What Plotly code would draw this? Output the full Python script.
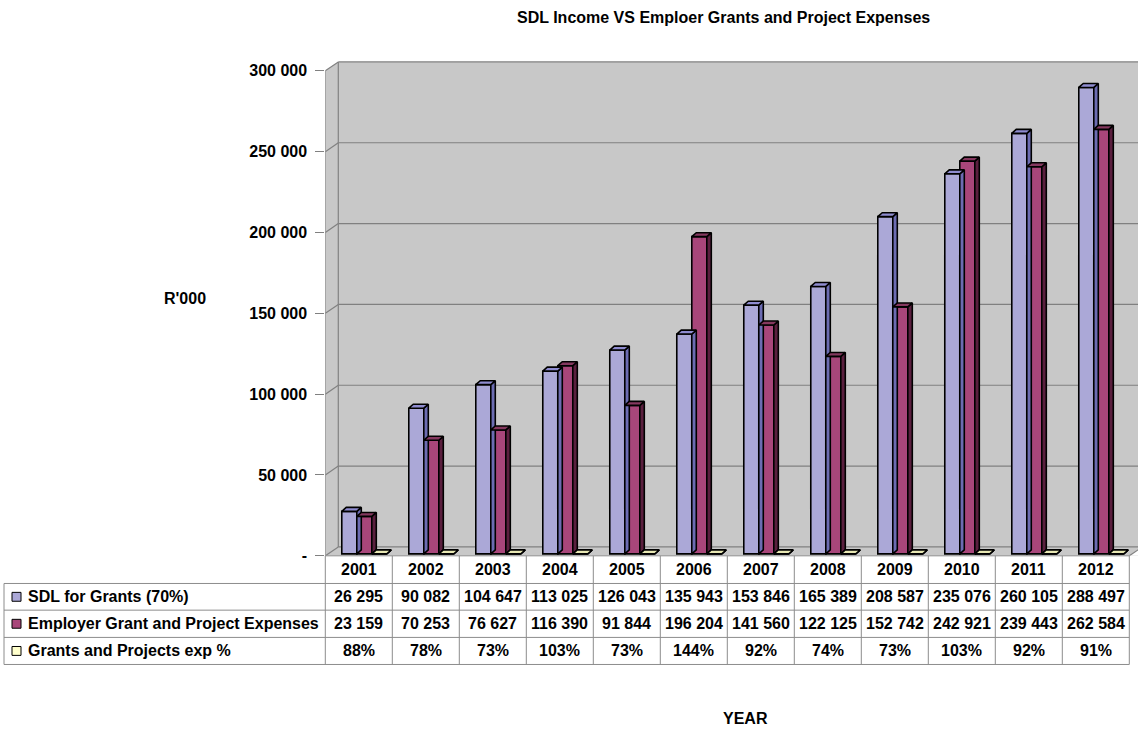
import plotly.graph_objects as go

# ---- data -------------------------------------------------------------
years = ["2001", "2002", "2003", "2004", "2005", "2006",
         "2007", "2008", "2009", "2010", "2011", "2012"]
sdl_grants = [26295, 90082, 104647, 113025, 126043, 135943,
              153846, 165389, 208587, 235076, 260105, 288497]
employer_exp = [23159, 70253, 76627, 116390, 91844, 196204,
                141560, 122125, 152742, 242921, 239443, 262584]
exp_pct = [88, 78, 73, 103, 73, 144, 92, 74, 73, 103, 92, 91]

series_names = ["SDL for Grants (70%)",
                "Employer Grant and Project Expenses",
                "Grants and Projects exp %"]
y_tickvals = [0, 50000, 100000, 150000, 200000, 250000, 300000]
y_ticktext = ["-", "50 000", "100 000", "150 000", "200 000", "250 000", "300 000"]

# ---- geometry / styling ---------------------------------------------
W, H = 1138, 736
PLOT_L, PLOT_R = 325.3, 1138.0      # pixel extent of the plot area
PLOT_T, PLOT_B = 40.0, 562.7
COL_W = 67.0                         # pixels per category
PX_PER_Y = 491.0 / 300000            # pixels per data unit on y

x_lo = -0.5
x_hi = x_lo + (PLOT_R - PLOT_L) / COL_W
y_hi = (PLOT_B - PLOT_T) / PX_PER_Y

def dx(px):
    return px / COL_W

def dy(px):
    return px / PX_PER_Y

WALL_DX, WALL_DY = dx(13), dy(9)     # depth of the 3D box
BAR_DX, BAR_DY = dx(4.5), dy(4)      # depth of each column
BAR_BASE = dy(2)
BAR_W = 0.224
offsets = [-0.142, 0.082, 0.306]

wall_col = "#C8C8C8"
edge_col = "#808080"
front_cols = ["#ABA8D7", "#A8467A", "#FFFFCC"]
side_cols = ["#6C6CB2", "#5A1F3E", "#C8C890"]
top_cols = ["#8F8CD0", "#85385F", "#E8E8B4"]
FONT = "Liberation Sans, Arial, sans-serif"
FS = 16
OUTLINE = dict(color="black", width=1.6)

fig = go.Figure()

# ---- columns with side and top faces ---------------------------------
values = [sdl_grants, employer_exp, [p / 100 for p in exp_pct]]
for s, vals in enumerate(values):
    xs = [i + offsets[s] for i in range(len(years))]
    fig.add_trace(go.Bar(
        x=xs, y=vals, base=[BAR_BASE] * len(vals), width=BAR_W,
        marker=dict(color=front_cols[s], line=OUTLINE),
        showlegend=False, hoverinfo="skip"))
    side_x, side_y, top_x, top_y = [], [], [], []
    for xc, v in zip(xs, vals):
        L, R = xc - BAR_W / 2, xc + BAR_W / 2
        B, T = BAR_BASE, BAR_BASE + v
        side_x += [R, R, R + BAR_DX, R + BAR_DX, R, None]
        side_y += [B, T, T + BAR_DY, B + BAR_DY, B, None]
        top_x += [L, R, R + BAR_DX, L + BAR_DX, L, None]
        top_y += [T, T, T + BAR_DY, T + BAR_DY, T, None]
    fig.add_trace(go.Scatter(x=side_x, y=side_y, mode="lines", fill="toself",
                             fillcolor=side_cols[s], line=OUTLINE,
                             showlegend=False, hoverinfo="skip"))
    fig.add_trace(go.Scatter(x=top_x, y=top_y, mode="lines", fill="toself",
                             fillcolor=top_cols[s], line=OUTLINE,
                             showlegend=False, hoverinfo="skip"))

# ---- walls, floor and gridlines --------------------------------------
shapes = []
ytop = y_tickvals[-1]
x_end = x_hi + 1
# back wall
shapes.append(dict(type="rect", xref="x", yref="y", layer="below",
                   x0=x_lo + WALL_DX, x1=x_end, y0=WALL_DY, y1=ytop + WALL_DY,
                   fillcolor=wall_col, line=dict(width=0)))
# side wall
shapes.append(dict(type="path", xref="x", yref="y", layer="below",
                   path=f"M {x_lo},0 L {x_lo},{ytop} L {x_lo + WALL_DX},{ytop + WALL_DY} "
                        f"L {x_lo + WALL_DX},{WALL_DY} Z",
                   fillcolor=wall_col, line=dict(width=0)))
# floor
shapes.append(dict(type="path", xref="x", yref="y", layer="below",
                   path=f"M {x_lo},0 L {x_end},0 L {x_end},{WALL_DY} "
                        f"L {x_lo + WALL_DX},{WALL_DY} Z",
                   fillcolor=wall_col, line=dict(width=0)))
# floor right edge
x_r = len(years) - 0.5
shapes.append(dict(type="path", xref="x", yref="y", layer="below",
                   path=f"M {x_r},0 L {x_r + WALL_DX},{WALL_DY} L {x_end},{WALL_DY} "
                        f"L {x_end},0 Z",
                   fillcolor="white", line=dict(width=0)))
shapes.append(dict(type="line", xref="x", yref="y", layer="below",
                   x0=x_r, y0=0, x1=x_r + WALL_DX, y1=WALL_DY,
                   line=dict(color=edge_col, width=1.2)))
for v in y_tickvals:
    shapes.append(dict(type="line", xref="x", yref="y", layer="below",
                       x0=x_lo + WALL_DX, x1=x_end, y0=v + WALL_DY, y1=v + WALL_DY,
                       line=dict(color=edge_col, width=1.2)))
    shapes.append(dict(type="line", xref="x", yref="y", layer="below",
                       x0=x_lo, x1=x_lo + WALL_DX, y0=v, y1=v + WALL_DY,
                       line=dict(color=edge_col, width=1.2)))
shapes.append(dict(type="line", xref="x", yref="y", layer="below",
                   x0=x_lo, x1=x_lo, y0=0, y1=ytop,
                   line=dict(color=edge_col, width=1.2)))
shapes.append(dict(type="line", xref="x", yref="y", layer="below",
                   x0=x_lo + WALL_DX, x1=x_lo + WALL_DX, y0=WALL_DY, y1=ytop + WALL_DY,
                   line=dict(color=edge_col, width=1.2)))

# ---- data table ------------------------------------------------------
def px_x(p):
    return p / W

def px_y(p):
    return 1 - p / H

TBL_L, TBL_R = 4.0, PLOT_L + COL_W * len(years)
rows_y = [562.7, 590.7, 617.7, 645.3, 672.7]
tbl_line = dict(color="#8C8C8C", width=1)

def pline(x0, y0, x1, y1):
    shapes.append(dict(type="line", xref="paper", yref="paper",
                       x0=px_x(x0), y0=px_y(y0), x1=px_x(x1), y1=px_y(y1),
                       line=tbl_line))

pline(PLOT_L, rows_y[0], TBL_R, rows_y[0])
for ry in rows_y[1:]:
    pline(TBL_L, ry, TBL_R, ry)
pline(TBL_L, rows_y[1], TBL_L, rows_y[-1])
for c in range(len(years) + 1):
    xc = PLOT_L + c * COL_W
    pline(xc, rows_y[0], xc, rows_y[-1])

annotations = []
def text(x, y, s, size=FS, anchor="center"):
    annotations.append(dict(x=px_x(x), y=px_y(y), xref="paper", yref="paper",
                            text=f"<b>{s}</b>", showarrow=False, xanchor=anchor,
                            yanchor="middle",
                            font=dict(family=FONT, size=size, color="black")))

def fmt(v):
    return f"{v:,}".replace(",", " ")

row_vals = [[fmt(v) for v in sdl_grants],
            [fmt(v) for v in employer_exp],
            [f"{p}%" for p in exp_pct]]
for c, yr in enumerate(years):
    xc = PLOT_L + (c + 0.5) * COL_W
    text(xc, (rows_y[0] + rows_y[1]) / 2, yr)
    for r in range(3):
        text(xc, (rows_y[r + 1] + rows_y[r + 2]) / 2, row_vals[r][c])

for r in range(3):
    yc = (rows_y[r + 1] + rows_y[r + 2]) / 2
    shapes.append(dict(type="rect", xref="paper", yref="paper",
                       x0=px_x(12), x1=px_x(21), y0=px_y(yc + 4.5), y1=px_y(yc - 4.5),
                       fillcolor=front_cols[r], line=dict(color="black", width=1)))
    text(26, yc, series_names[r], anchor="left")

# ---- titles ----------------------------------------------------------
text(723, 18, "SDL Income VS Emploer Grants and Project Expenses", size=16)
text(185, 302, "R'000")
text(745, 727, "YEAR")

fig.update_layout(
    width=W, height=H,
    margin=dict(l=0, r=0, t=0, b=0),
    paper_bgcolor="white", plot_bgcolor="rgba(0,0,0,0)",
    barmode="overlay",
    showlegend=False,
    shapes=shapes,
    annotations=annotations,
    xaxis=dict(domain=[px_x(PLOT_L), 1.0], range=[x_lo, x_hi],
               showgrid=False, zeroline=False, showticklabels=False,
               ticks="", showline=False, fixedrange=True),
    yaxis=dict(domain=[px_y(PLOT_B), px_y(PLOT_T)], range=[0, y_hi],
               showgrid=False, zeroline=False, showline=False,
               tickvals=y_tickvals, ticktext=[f"<b>{t}</b>" for t in y_ticktext],
               ticks="outside", ticklen=9, tickcolor=edge_col, tickwidth=1.2,
               ticklabelstandoff=5,
               tickfont=dict(family=FONT, size=FS, color="black"),
               fixedrange=True),
)

fig.write_html("out.html")
